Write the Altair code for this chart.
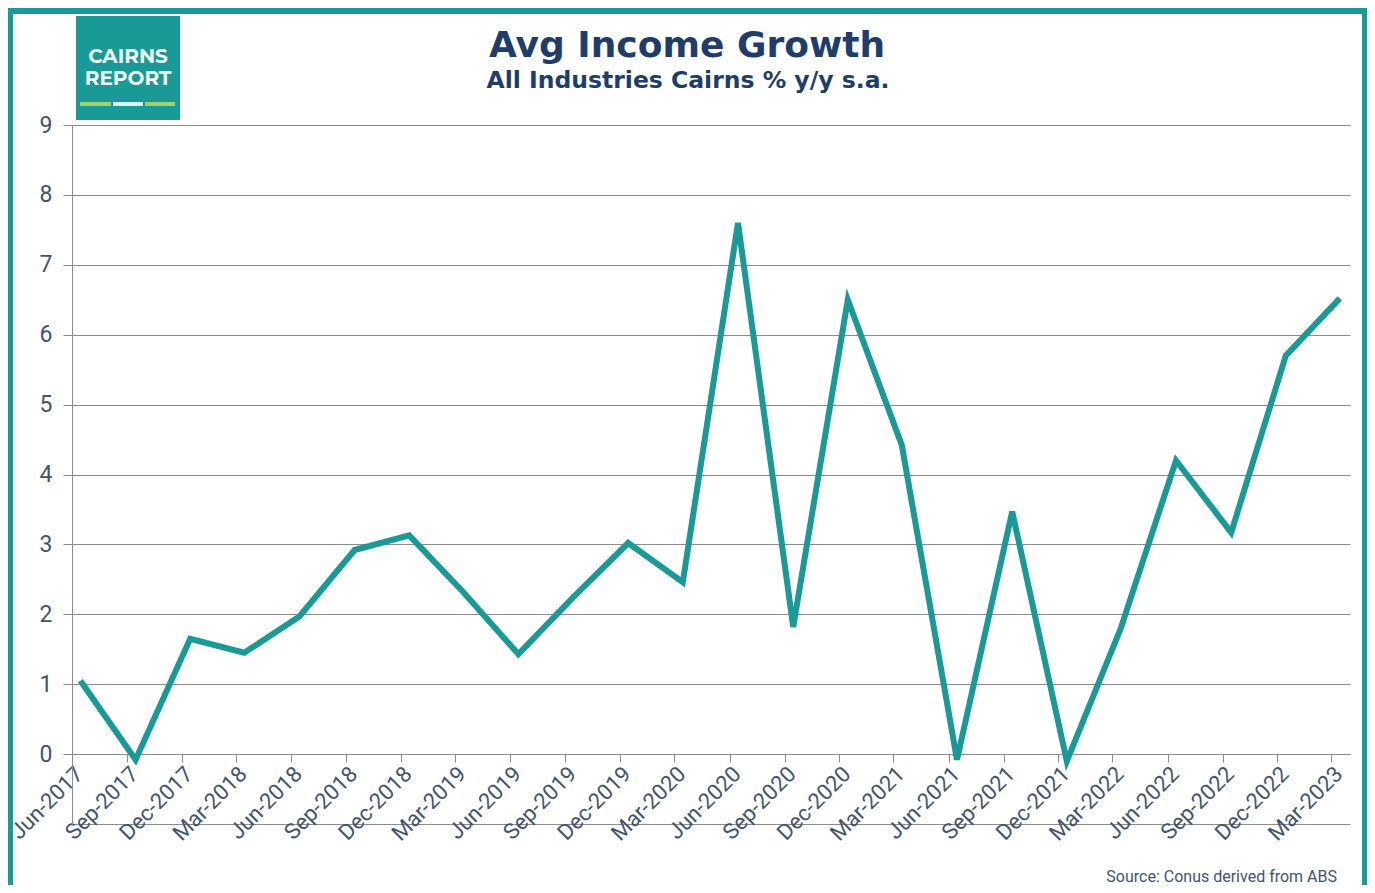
import altair as alt
import pandas as pd

# ---- data ----
quarters = ["2017-06-15", "2017-09-15", "2017-12-15", "2018-03-15", "2018-06-15", "2018-09-15",
            "2018-12-15", "2019-03-15", "2019-06-15", "2019-09-15", "2019-12-15", "2020-03-15",
            "2020-06-15", "2020-09-15", "2020-12-15", "2021-03-15", "2021-06-15", "2021-09-15",
            "2021-12-15", "2022-03-15", "2022-06-15", "2022-09-15", "2022-12-15", "2023-03-15"]
growth = [1.05, -0.08, 1.65, 1.45, 1.97, 2.92, 3.13, 2.32, 1.43, 2.25, 3.02, 2.46,
          7.60, 1.82, 6.50, 4.42, -0.08, 3.47, -0.10, 1.80, 4.20, 3.17, 5.70, 6.52]
tick_years = [2017, 2017, 2017, 2018, 2018, 2018, 2018, 2019, 2019, 2019, 2019, 2020,
              2020, 2020, 2020, 2021, 2021, 2021, 2021, 2022, 2022, 2022, 2022, 2023]
tick_months = [6, 9, 12, 3, 6, 9, 12, 3, 6, 9, 12, 3, 6, 9, 12, 3, 6, 9, 12, 3, 6, 9, 12, 3]
y_ticks = [-1, 0, 1, 2, 3, 4, 5, 6, 7, 8, 9]

title_text = "Avg Income Growth"
subtitle_text = "All Industries Cairns % y/y s.a."
source_text = "Source: Conus derived from ABS"

df = pd.DataFrame({"quarter": quarters, "growth": growth})
dummy = pd.DataFrame({"a": [0]})

# ---- style ----
TEAL = "#1a9a96"
NAVY = "#1f3d6b"
LAB = "#44546a"
GRID = "#8c8c8c"
FONT = "Roboto"
TFONT = "DejaVu Sans"
W, H = 1278, 699
PAD = {"left": 64, "top": 117, "right": 17, "bottom": 61}

x_enc = alt.X(
    "quarter:T",
    title=None,
    scale=alt.Scale(type="utc", domain=[alt.DateTime(year=2017, month=6, date=1, utc=True),
                                        alt.DateTime(year=2023, month=4, date=1, utc=True)]),
    axis=alt.Axis(
        values=[alt.DateTime(year=y, month=m, date=1, utc=True) for y, m in zip(tick_years, tick_months)],
        format="%b-%Y", labelAngle=-45, labelAlign="right", labelBaseline="top",
        labelOverlap=False, labelFlush=False, offset=-70, grid=False,
        tickSize=8, tickColor=GRID, domainColor=GRID, labelColor=LAB,
        labelFont=FONT, labelFontSize=22, labelPadding=1,
    ),
)
y_enc = alt.Y(
    "growth:Q",
    title=None,
    scale=alt.Scale(domain=[-1, 9], nice=False, zero=False),
    axis=alt.Axis(
        values=y_ticks, labelExpr="datum.value < 0 ? '' : datum.label",
        grid=True, gridColor=GRID, gridWidth=1, domainColor=GRID,
        tickColor=GRID, tickSize=9,
        tickOpacity=alt.condition("datum.value < 0", alt.value(0), alt.value(1)),
        labelColor=LAB, labelFont=FONT, labelFontSize=23, labelPadding=11,
    ),
)

line = alt.Chart(df).mark_line(color=TEAL, strokeWidth=6, strokeJoin="miter").encode(x=x_enc, y=y_enc)

# logo
logo_bg = alt.Chart(dummy).mark_rect(color=TEAL).encode(
    x=alt.value(4), x2=alt.value(108), y=alt.value(-109), y2=alt.value(-5))
stripe1 = alt.Chart(dummy).mark_rect(color="#9ed36a").encode(
    x=alt.value(8), x2=alt.value(39), y=alt.value(-23), y2=alt.value(-19))
stripe2 = alt.Chart(dummy).mark_rect(color="#d8f6f4").encode(
    x=alt.value(41), x2=alt.value(71), y=alt.value(-23), y2=alt.value(-19))
stripe3 = alt.Chart(dummy).mark_rect(color="#9ed36a").encode(
    x=alt.value(73), x2=alt.value(103), y=alt.value(-23), y2=alt.value(-19))
logo_t1 = alt.Chart(dummy).mark_text(text="CAIRNS", color="#eefaf4", font="Montserrat, Roboto",
                                     fontWeight="bold", fontSize=20, align="center",
                                     baseline="alphabetic").encode(x=alt.value(56), y=alt.value(-62))
logo_t2 = alt.Chart(dummy).mark_text(text="REPORT", color="#eefaf4", font="Montserrat, Roboto",
                                     fontWeight="bold", fontSize=20, align="center",
                                     baseline="alphabetic").encode(x=alt.value(56), y=alt.value(-40))

# title and subtitle
title_mark = alt.Chart(dummy).mark_text(text=title_text, color=NAVY, font=TFONT, fontWeight="bold",
                                        fontSize=36, align="center", baseline="alphabetic").encode(
    x=alt.value(615), y=alt.value(-68))
subtitle_mark = alt.Chart(dummy).mark_text(text=subtitle_text, color=NAVY, font=TFONT, fontWeight="bold",
                                           fontSize=23.5, align="center", baseline="alphabetic").encode(
    x=alt.value(616), y=alt.value(-37))

source = alt.Chart(dummy).mark_text(text=source_text, color=LAB, font=FONT, fontSize=16,
                                    align="right", baseline="alphabetic").encode(
    x=alt.value(1265), y=alt.value(757))

# card frame: left, top and right edges
b_left = alt.Chart(dummy).mark_rect(color=TEAL).encode(
    x=alt.value(-64), x2=alt.value(-59), y=alt.value(-117), y2=alt.value(H + 61))
b_top = alt.Chart(dummy).mark_rect(color=TEAL).encode(
    x=alt.value(-64), x2=alt.value(W + 17), y=alt.value(-117), y2=alt.value(-111))
b_right = alt.Chart(dummy).mark_rect(color=TEAL).encode(
    x=alt.value(W + 12), x2=alt.value(W + 17), y=alt.value(-117), y2=alt.value(H + 61))

chart = alt.layer(
    line, logo_bg, stripe1, stripe2, stripe3, logo_t1, logo_t2,
    title_mark, subtitle_mark, source, b_left, b_top, b_right
).properties(
    width=W, height=H,
    autosize=alt.AutoSizeParams(type="none"),
    padding=PAD,
    background="white",
).configure_view(stroke=None)

chart.save("out.html", embed_options={"renderer": "svg", "actions": False})
